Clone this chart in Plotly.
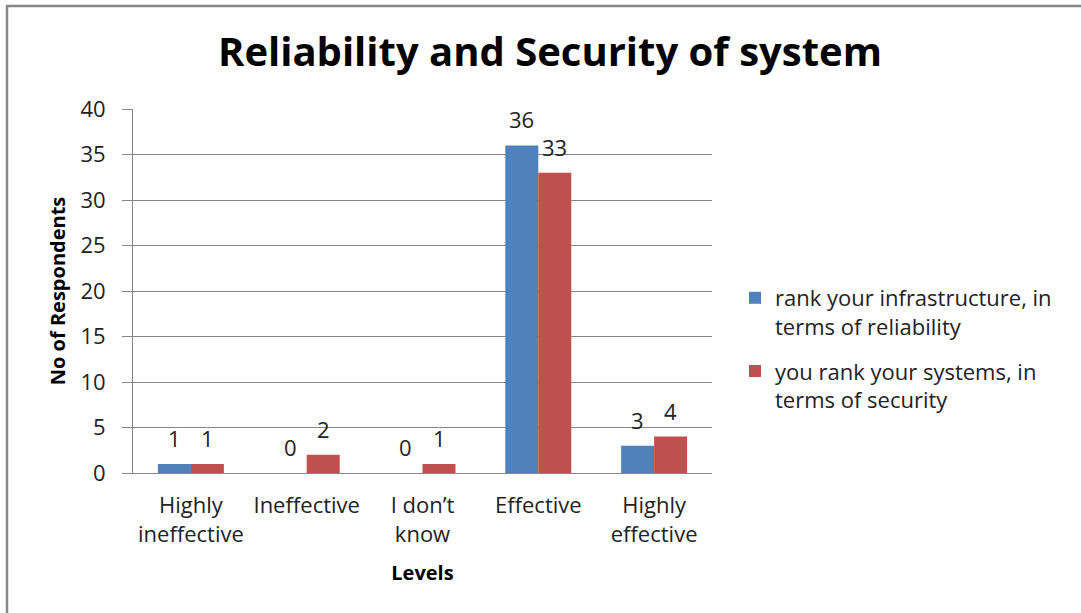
import plotly.graph_objects as go

categories = ["Highly<br>ineffective", "Ineffective", "I don\u2019t<br>know", "Effective", "Highly<br>effective"]
series_names = ["rank your infrastructure, in<br>terms of reliability",
                "you rank your systems, in<br>terms of security"]
reliability = [1, 0, 0, 36, 3]
security = [1, 2, 1, 33, 4]
colors = ["#4F81BD", "#C0504D"]

FONT = "Open Sans"
W, H = 1081, 613
ML, MR, MT, MB = 133, 369, 109, 140
BARGAP = 0.43

fig = go.Figure()
for i, (name, vals) in enumerate(zip(series_names, [reliability, security])):
    fig.add_trace(go.Bar(
        x=categories, y=vals, name=name, marker=dict(color=colors[i], line=dict(width=0)),
        legendgroup=f"g{i}",
    ))

# data labels
plot_w = W - ML - MR
bar_w = plot_w / len(categories) * (1 - BARGAP) / 2
for i, vals in enumerate([reliability, security]):
    for c, v in zip(categories, vals):
        fig.add_annotation(x=c, y=v, text=str(v), showarrow=False,
                           xshift=(i - 0.5) * bar_w, yanchor="bottom", yshift=9,
                           font=dict(family=FONT, size=22, color="#222222"))

ph = H - MT - MB
fig.add_shape(type="rect", xref="paper", yref="paper",
              x0=(7 - ML) / plot_w, x1=(1200 - ML) / plot_w,
              y0=-(700 - (H - MB)) / ph, y1=((H - MB) - 6) / ph,
              line=dict(color="#878787", width=2.5), fillcolor="rgba(0,0,0,0)", layer="below")

fig.update_layout(
    width=W, height=H,
    margin=dict(l=ML, r=MR, t=MT, b=MB, pad=0),
    paper_bgcolor="white", plot_bgcolor="white",
    barmode="group", bargap=BARGAP, bargroupgap=0,
    font=dict(family=FONT, size=22, color="#222222"),
    title=dict(text="<b>Reliability and Security of system</b>", xref="container", x=550 / W,
               xanchor="center", yref="container", y=1 - 52 / H, yanchor="middle",
               font=dict(family=FONT, size=40, color="#000000")),
    showlegend=True,
    legend=dict(x=(735 - ML) / plot_w, xanchor="left", y=(H - MB - 277) / ph, yanchor="top",
                font=dict(family=FONT, size=22, color="#222222"), valign="top",
                tracegroupgap=13, bgcolor="rgba(0,0,0,0)"),
    xaxis=dict(showline=True, linecolor="#868686", linewidth=1, ticks="", showgrid=False,
               tickfont=dict(family=FONT, size=22, color="#222222"), ticklabelstandoff=13,
               title=dict(text="<b>Levels</b>", font=dict(family=FONT, size=20, color="#000000"), standoff=18)),
    yaxis=dict(range=[0, 40], dtick=5, showline=True, linecolor="#868686", linewidth=1,
               gridcolor="#868686", gridwidth=1, ticks="outside", ticklen=10, tickcolor="#868686",
               tickfont=dict(family=FONT, size=22, color="#222222"), ticklabelstandoff=12,
               zeroline=False,
               title=dict(text="<b>No of Respondents</b>", font=dict(family=FONT, size=20, color="#000000"), standoff=9)),
)

fig.write_html("out.html")
